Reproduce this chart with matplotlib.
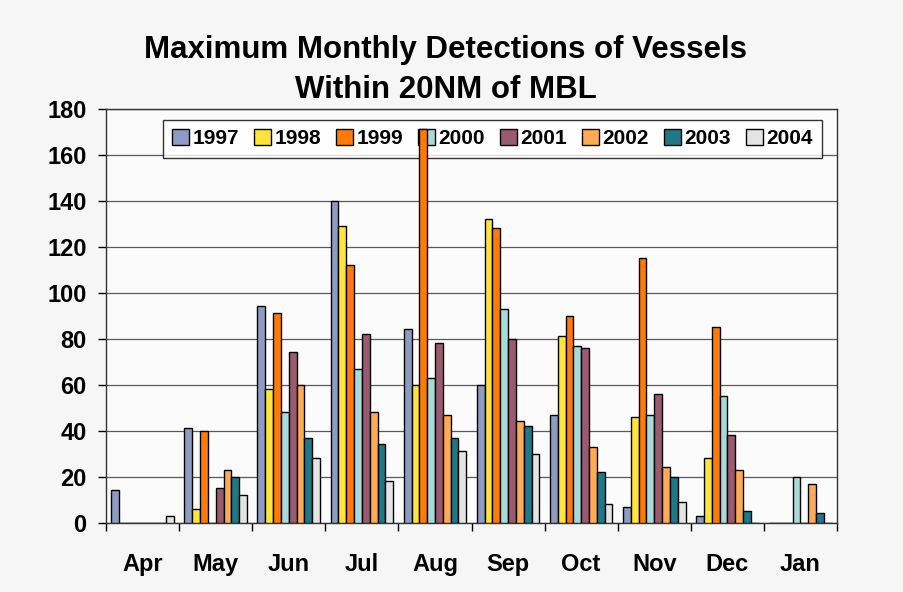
import numpy as np
import matplotlib
matplotlib.use("Agg")
import matplotlib.pyplot as plt

plt.rcParams['font.family'] = ['Liberation Sans', 'DejaVu Sans']

# months on the x axis
months = ["Apr", "May", "Jun", "Jul", "Aug", "Sep", "Oct", "Nov", "Dec", "Jan"]
years = ["1997", "1998", "1999", "2000", "2001", "2002", "2003", "2004"]

# detections per year, one value per month
v1997 = [14, 41, 94, 140, 84, 60, 47, 7, 3, 0]
v1998 = [0, 6, 58, 129, 60, 132, 81, 46, 28, 0]
v1999 = [0, 40, 91, 112, 171, 128, 90, 115, 85, 0]
v2000 = [0, 0, 48, 67, 63, 93, 77, 47, 55, 20]
v2001 = [0, 15, 74, 82, 78, 80, 76, 56, 38, 0]
v2002 = [0, 23, 60, 48, 47, 44, 33, 24, 23, 17]
v2003 = [0, 20, 37, 34, 37, 42, 22, 20, 5, 4]
v2004 = [3, 12, 28, 18, 31, 30, 8, 9, 0, 0]

series = [v1997, v1998, v1999, v2000, v2001, v2002, v2003, v2004]
colors = ['#8d9cc2', '#ffe43c', '#ff7a0a', '#a8dada', '#9a5a70',
          '#ffab55', '#1e7888', '#e4e4e4']

fig = plt.figure(figsize=(9.04, 5.92), dpi=100, facecolor='#f6f6f6')
ax = fig.add_axes([0.1173, 0.1171, 0.8086, 0.6993])
ax.set_facecolor('#fbfbfb')

x = np.arange(len(months))
bw = 0.107
start = 0.072 + bw / 2
for i, (vals, c, yr) in enumerate(zip(series, colors, years)):
    ax.bar(x + start + i * bw, vals, width=bw, color=c, edgecolor='black',
           linewidth=1.0, label=yr, zorder=6)

ax.set_xlim(0, len(months))
ax.set_ylim(0, 180)
ax.set_yticks(np.arange(0, 181, 20))
ax.set_xticks(np.arange(0, len(months) + 1))
ax.set_xticklabels([])
ax.set_xticks(x + 0.5, minor=True)
ax.set_xticklabels(months, minor=True)
ax.tick_params(axis='x', which='minor', length=0, pad=22)
ax.tick_params(axis='x', which='major', length=6, width=1, direction='out')
ax.tick_params(axis='y', length=6, width=1, direction='out', pad=8)
for lab in ax.get_yticklabels() + ax.get_xticklabels(minor=True):
    lab.set_fontsize(17)
    lab.set_fontweight('bold')

ax.yaxis.grid(True, color='#5a5a5a', linewidth=0.9)
ax.set_axisbelow(True)
for s in ax.spines.values():
    s.set_color('#333333')
    s.set_linewidth(1.0)

leg = ax.legend(ncol=8, loc='upper left', bbox_to_anchor=(0.078, 0.973),
                prop={'size': 15, 'weight': 'bold'}, frameon=True,
                fancybox=False, edgecolor='black',
                handlelength=0.8, handleheight=0.8, handletextpad=0.15,
                columnspacing=0.75, borderpad=0.45, borderaxespad=0)
leg.get_frame().set_linewidth(1.0)
leg.set_zorder(5)

fig.text(0.493, 0.882, "Maximum Monthly Detections of Vessels\nWithin 20NM of MBL",
         ha='center', va='center', fontsize=22.5, fontweight='bold', linespacing=1.42)

fig.savefig("out.png", dpi=100, facecolor=fig.get_facecolor())
